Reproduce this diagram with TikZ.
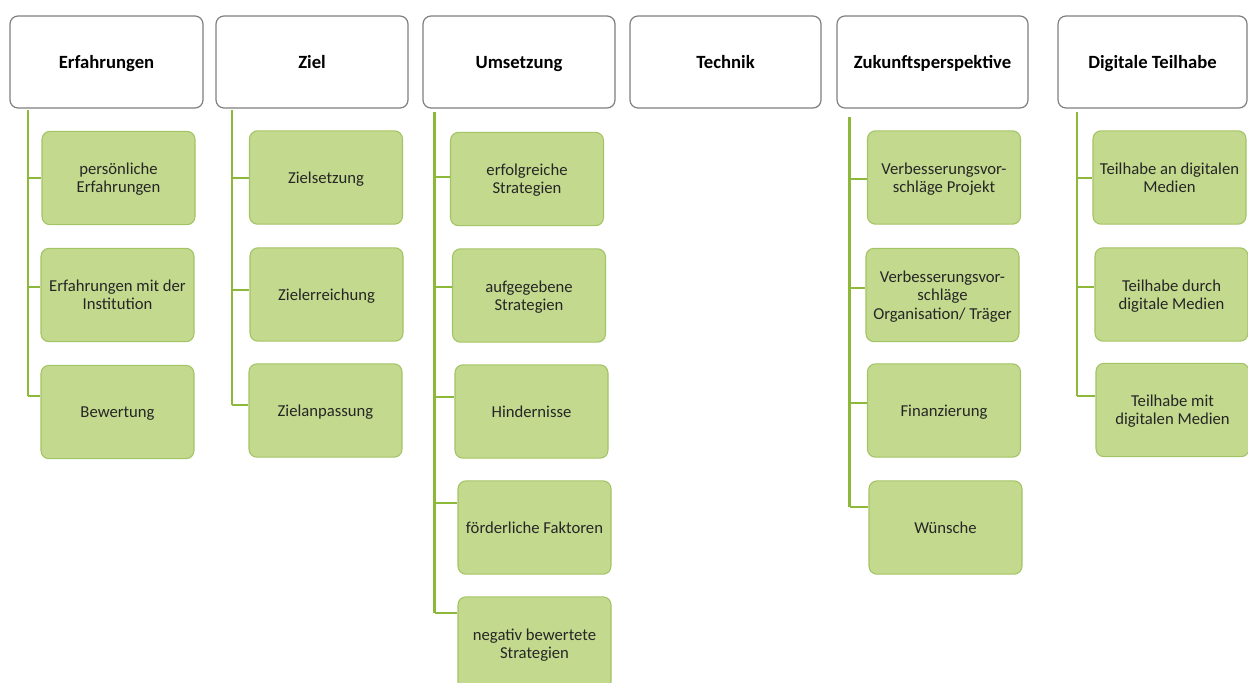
\documentclass[tikz,border=0pt]{standalone}
\usepackage{fontspec}
\setmainfont{Carlito}
\definecolor{hdrline}{HTML}{7F7F7F}
\definecolor{gfill}{HTML}{C3D98D}
\definecolor{gline}{HTML}{A3C464}
\definecolor{conncol}{HTML}{8DB83A}
\tikzset{
  hdr/.style={draw=hdrline, line width=0.9pt, fill=white, rounded corners=6pt,
    minimum width=#1*0.75pt, minimum height=69pt, font=\fontsize{14}{16}\selectfont\bfseries,
    align=center, inner sep=0pt, text depth=0pt,
    execute at begin node={\vphantom{A}}},
  gbox/.style={draw=gline, line width=0.8pt, fill=gfill, rounded corners=6pt,
    minimum width=114.75pt, minimum height=70pt, font=\fontsize{12.5}{13.8}\selectfont,
    align=center, inner sep=0pt, text=black!85, text depth=0pt,
    execute at begin node={\vphantom{A}}},
  conn/.style={draw=conncol, line width=1.7pt}
}
\begin{document}
\begin{tikzpicture}[x=0.75pt, y=-0.75pt]
\useasboundingbox (0,0) rectangle (1248,682);
\begin{scope}
\clip (0,0) rectangle (1248,682);
% headers
\node[hdr=193] (h1) at (106.5,62) {Erfahrungen};
\node[hdr=192] (h2) at (312,62) {Ziel};
\node[hdr=192] (h3) at (519,62) {Umsetzung};
\node[hdr=191] (h4) at (725.5,62) {Technik};
\node[hdr=191] (h5) at (932.5,62) {Zukunftsperspektive};
\node[hdr=189] (h6) at (1152.5,62) {Digitale Teilhabe};
% column 1
\node[gbox] (a1) at (118.5,178) {persönliche\\Erfahrungen};
\node[gbox] (a2) at (117.5,295) {Erfahrungen mit der\\Institution};
\node[gbox] (a3) at (117.5,412) {Bewertung};
% column 2
\node[gbox] (b1) at (326,177.5) {Zielsetzung};
\node[gbox] (b2) at (326.5,294.5) {Zielerreichung};
\node[gbox] (b3) at (325.5,410.5) {Zielanpassung};
% column 3
\node[gbox] (c1) at (527,179) {erfolgreiche\\Strategien};
\node[gbox] (c2) at (529,295.5) {aufgegebene\\Strategien};
\node[gbox] (c3) at (531.5,411.5) {Hindernisse};
\node[gbox] (c4) at (534.5,527.5) {förderliche Faktoren};
\node[gbox] (c5) at (534.5,643.5) {negativ bewertete\\Strategien};
% column 5
\node[gbox] (e1) at (944,177.5) {Verbesserungsvor-\\schläge Projekt};
\node[gbox] (e2) at (942.5,295) {Verbesserungsvor-\\schläge\\Organisation/ Träger};
\node[gbox] (e3) at (944,410.5) {Finanzierung};
\node[gbox] (e4) at (945.5,527.5) {Wünsche};
% column 6
\node[gbox] (f1) at (1169.5,177.5) {Teilhabe an digitalen\\Medien};
\node[gbox] (f2) at (1171.5,294.5) {Teilhabe durch\\digitale Medien};
\node[gbox] (f3) at (1172.5,410) {Teilhabe mit\\digitalen Medien};
% spine tops
\coordinate (s1) at (28,110);
\coordinate (s2) at (232,110);
\coordinate (s3) at (434.5,112);
\coordinate (s5) at (849.5,117);
\coordinate (s6) at (1077,112);
% connectors column 1
\draw[conn] (s1) -- (s1 |- 0,396);
\draw[conn] (s1 |- 0,178) -- (a1.west |- 0,178);
\draw[conn] (s1 |- 0,287) -- (a2.west |- 0,287);
\draw[conn] (s1 |- 0,396) -- (a3.west |- 0,396);
% column 2
\draw[conn] (s2) -- (s2 |- 0,405);
\draw[conn] (s2 |- 0,178) -- (b1.west |- 0,178);
\draw[conn] (s2 |- 0,290) -- (b2.west |- 0,290);
\draw[conn] (s2 |- 0,405) -- (b3.west |- 0,405);
% column 3
\draw[conn] (s3) -- (s3 |- 0,613);
\draw[conn] (s3 |- 0,177) -- (c1.west |- 0,177);
\draw[conn] (s3 |- 0,287) -- (c2.west |- 0,287);
\draw[conn] (s3 |- 0,397) -- (c3.west |- 0,397);
\draw[conn] (s3 |- 0,503) -- (c4.west |- 0,503);
\draw[conn] (s3 |- 0,613) -- (c5.west |- 0,613);
% column 5
\draw[conn] (s5) -- (s5 |- 0,507);
\draw[conn] (s5 |- 0,179) -- (e1.west |- 0,179);
\draw[conn] (s5 |- 0,288) -- (e2.west |- 0,288);
\draw[conn] (s5 |- 0,403) -- (e3.west |- 0,403);
\draw[conn] (s5 |- 0,507) -- (e4.west |- 0,507);
% column 6
\draw[conn] (s6) -- (s6 |- 0,396);
\draw[conn] (s6 |- 0,178) -- (f1.west |- 0,178);
\draw[conn] (s6 |- 0,287) -- (f2.west |- 0,287);
\draw[conn] (s6 |- 0,396) -- (f3.west |- 0,396);
\end{scope}
\end{tikzpicture}
\end{document}
